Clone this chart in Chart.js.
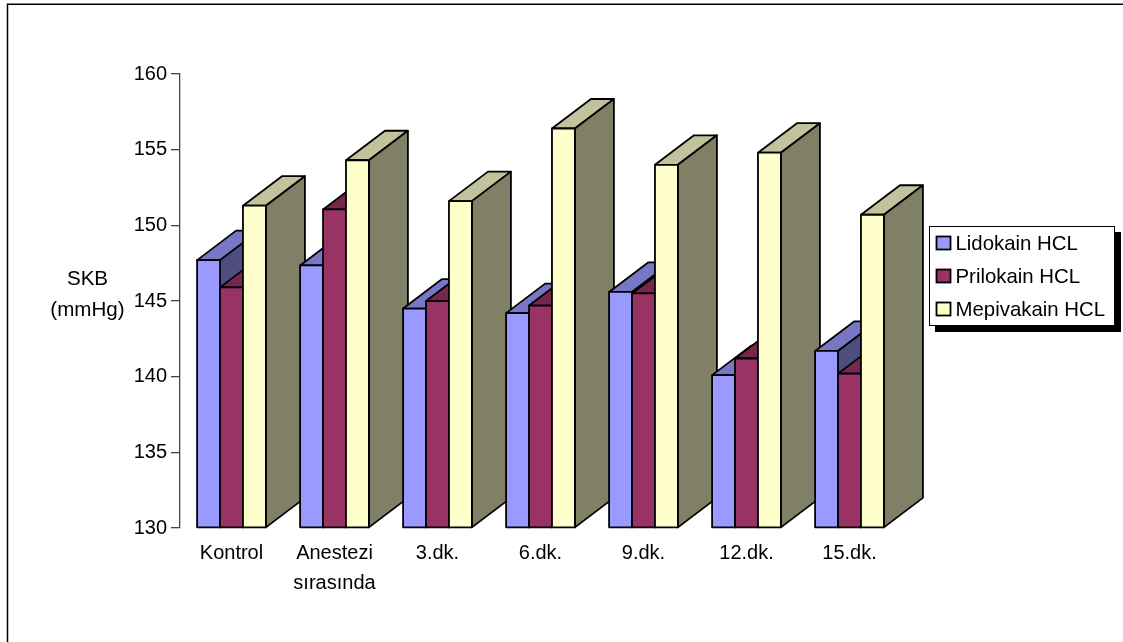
<!DOCTYPE html>
<html>
<head>
<meta charset="utf-8">
<title>SKB</title>
<script src="https://cdn.jsdelivr.net/npm/chart.js@4/dist/chart.umd.js"></script>
<style>
  html, body { margin: 0; padding: 0; background: #fff; }
  canvas { display: block; }
</style>
</head>
<body>
<canvas id="skbChart" width="1123" height="642"></canvas>
<script>
const categories = ['Kontrol', ['Anestezi', 'sırasında'], '3.dk.', '6.dk.', '9.dk.', '12.dk.', '15.dk.'];
const lidokain = [147.7, 147.35, 144.5, 144.2, 145.6, 140.1, 141.7];
const prilokain = [145.9, 151.05, 145.0, 144.7, 145.5, 141.2, 140.2];
const mepivakain = [151.3, 154.3, 151.6, 156.4, 154.0, 154.8, 150.7];
const seriesNames = ['Lidokain HCL', 'Prilokain HCL', 'Mepivakain HCL'];
const frontColors = ['#9999ff', '#993366', '#ffffcc'];
const topColors = ['#7777c6', '#75274e', '#c2c29c'];
const sideColors = ['#4d4d80', '#4d1a33', '#808066'];
const yTitleLines = ['SKB', '(mmHg)'];
const yMin = 130;
const yMax = 160;

const FAMILY = '"Liberation Sans", Arial, sans-serif';
const DEPTH_X = 39;
const DEPTH_Y = 29.5;

function fillShape(ctx, points, color) {
  ctx.beginPath();
  points.forEach((p, i) => (i ? ctx.lineTo(p[0], p[1]) : ctx.moveTo(p[0], p[1])));
  ctx.closePath();
  ctx.fillStyle = color;
  ctx.fill();
  ctx.stroke();
}

// extruded bars, painted left to right so nearer faces cover the ones behind
const bars3d = {
  id: 'bars3d',
  beforeDatasetsDraw(chart) {
    const ctx = chart.ctx;
    ctx.save();
    ctx.strokeStyle = '#000';
    ctx.lineWidth = 1.8;
    ctx.lineJoin = 'round';
    categories.forEach((c, i) => {
      chart.data.datasets.forEach((ds, d) => {
        const bar = chart.getDatasetMeta(d).data[i];
        const x0 = bar.x - bar.width / 2;
        const x1 = bar.x + bar.width / 2;
        const y = bar.y;
        const base = bar.base;
        fillShape(ctx, [[x0, y], [x0 + DEPTH_X, y - DEPTH_Y], [x1 + DEPTH_X, y - DEPTH_Y], [x1, y]], topColors[d]);
        fillShape(ctx, [[x1, y], [x1 + DEPTH_X, y - DEPTH_Y], [x1 + DEPTH_X, base - DEPTH_Y], [x1, base]], sideColors[d]);
        fillShape(ctx, [[x0, y], [x1, y], [x1, base], [x0, base]], frontColors[d]);
      });
    });
    ctx.restore();
    return false;
  }
};

// outer frame, horizontal axis title and the boxed legend
const decorations = {
  id: 'decorations',
  beforeDraw(chart) {
    const ctx = chart.ctx;
    ctx.save();
    ctx.strokeStyle = '#000';
    ctx.lineWidth = 1.5;
    ctx.beginPath();
    ctx.moveTo(7.5, 642);
    ctx.lineTo(7.5, 4.2);
    ctx.lineTo(1123, 4.2);
    ctx.stroke();
    ctx.restore();
  },
  afterDraw(chart) {
    const ctx = chart.ctx;
    ctx.save();
    ctx.font = '20.6px ' + FAMILY;
    ctx.fillStyle = '#000';
    ctx.textBaseline = 'middle';

    ctx.textAlign = 'center';
    yTitleLines.forEach((line, i) => ctx.fillText(line, 87.5, 279 + i * 31));

    // legend shadow and box
    ctx.fillRect(935, 232, 186, 100);
    ctx.fillStyle = '#fff';
    ctx.strokeStyle = '#000';
    ctx.lineWidth = 1;
    ctx.fillRect(929.5, 226.5, 185, 99);
    ctx.strokeRect(929.5, 226.5, 185, 99);

    ctx.textAlign = 'left';
    ctx.font = '20.4px ' + FAMILY;
    seriesNames.forEach((name, i) => {
      const rowY = 243 + i * 33;
      ctx.lineWidth = 1.8;
      ctx.fillStyle = frontColors[i];
      ctx.fillRect(936.5, rowY - 6.5, 14, 13);
      ctx.strokeRect(936.5, rowY - 6.5, 14, 13);
      ctx.fillStyle = '#000';
      ctx.fillText(name, 955.5, rowY + 1);
    });
    ctx.restore();
  }
};

new Chart(document.getElementById('skbChart'), {
  type: 'bar',
  data: {
    labels: categories,
    datasets: [
      { label: seriesNames[0], data: lidokain, base: yMin, backgroundColor: frontColors[0] },
      { label: seriesNames[1], data: prilokain, base: yMin, backgroundColor: frontColors[1] },
      { label: seriesNames[2], data: mepivakain, base: yMin, backgroundColor: frontColors[2] }
    ]
  },
  options: {
    responsive: false,
    animation: false,
    layout: { padding: { left: 0, right: 222, top: 74, bottom: 0 } },
    plugins: { legend: { display: false }, tooltip: { enabled: false } },
    datasets: { bar: { categoryPercentage: 0.668, barPercentage: 1 } },
    scales: {
      x: {
        afterFit: scale => { scale.height = 114; },
        grid: { display: false, drawTicks: false },
        border: { display: false },
        ticks: {
          autoSkip: false,
          maxRotation: 0,
          padding: 10,
          color: '#000',
          font: { family: FAMILY, size: 20, lineHeight: 1.5 }
        }
      },
      y: {
        min: yMin,
        max: yMax,
        afterFit: scale => { scale.width = 180; },
        grid: { drawOnChartArea: false, tickLength: 9, color: '#444', lineWidth: 1.3 },
        border: { color: '#444', width: 1.3 },
        ticks: {
          stepSize: 5,
          padding: 4,
          color: '#000',
          font: { family: FAMILY, size: 20 }
        }
      }
    }
  },
  plugins: [decorations, bars3d]
});
</script>
</body>
</html>
